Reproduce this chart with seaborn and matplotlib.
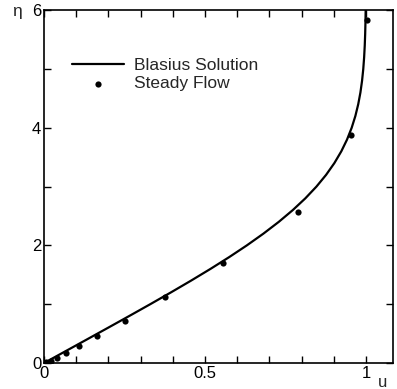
import matplotlib
matplotlib.use("Agg")
import matplotlib.pyplot as plt
import seaborn as sns
import pandas as pd
from matplotlib.ticker import MultipleLocator

# Blasius solution (eta, f'(eta))
blasius_eta = [0.0, 0.2, 0.4, 0.6, 0.8, 1.0, 1.2, 1.4, 1.6, 1.8, 2.0, 2.2, 2.4, 2.6,
               2.8, 3.0, 3.2, 3.4, 3.6, 3.8, 4.0, 4.2, 4.4, 4.6, 4.8, 5.0, 5.2, 5.4,
               5.6, 5.8, 6.0]
blasius_u = [0.0, 0.06641, 0.13277, 0.19894, 0.26471, 0.32979, 0.39378, 0.45627,
             0.51676, 0.57477, 0.62977, 0.68132, 0.72899, 0.77246, 0.81152, 0.84605,
             0.87609, 0.90177, 0.92333, 0.94112, 0.95552, 0.96696, 0.97587, 0.98269,
             0.98779, 0.99155, 0.99425, 0.99616, 0.99748, 0.99838, 0.99898]

# Steady flow points
steady_u = [0.0, 0.006, 0.022, 0.040, 0.068, 0.109, 0.165, 0.252, 0.376, 0.556, 0.789, 0.953, 1.003]
steady_eta = [0.0, 0.017, 0.034, 0.085, 0.17, 0.29, 0.46, 0.71, 1.12, 1.70, 2.57, 3.88, 5.83]

x_ticks = [0, 0.5, 1]
x_tick_labels = ["0", "0.5", "1"]
y_ticks = [0, 2, 4, 6]
y_tick_labels = ["0", "2", "4", "6"]

sns.set_theme(style="ticks")
plt.rcParams['font.family'] = ['Liberation Sans', 'DejaVu Sans']

fig = plt.figure(figsize=(3.97, 3.89), dpi=100)
ax = fig.add_axes([0.111, 0.0668, 0.879, 0.907])

df_line = pd.DataFrame({"u": blasius_u, "eta": blasius_eta})
df_pts = pd.DataFrame({"u": steady_u, "eta": steady_eta})

sns.lineplot(data=df_line, x="u", y="eta", sort=False, estimator=None, ax=ax,
             color="black", linewidth=1.6, label="Blasius Solution")
sns.scatterplot(data=df_pts, x="u", y="eta", ax=ax, color="black", s=20,
                edgecolor="black", linewidth=0, label="Steady Flow", zorder=3)

ax.set_xlim(0, 1.084)
ax.set_ylim(0, 6)
ax.set_xticks(x_ticks)
ax.set_xticklabels(x_tick_labels)
ax.set_yticks(y_ticks)
ax.set_yticklabels(y_tick_labels)
ax.xaxis.set_minor_locator(MultipleLocator(0.1))
ax.yaxis.set_minor_locator(MultipleLocator(1))
ax.tick_params(which="both", direction="in", top=True, right=True, color="black",
               labelsize=12, labelcolor="black", pad=2)
ax.tick_params(which="major", length=5, width=1)
ax.tick_params(which="minor", length=5, width=1)
ax.tick_params(axis="y", which="both", labelright=False)
for s in ax.spines.values():
    s.set_color("black")
    s.set_linewidth(1.2)

ax.set_xlabel("")
ax.set_ylabel("")
ax.text(-0.085, 5.97, "η", fontsize=12.5, ha="center", va="center")
ax.text(1.05, -0.33, "u", fontsize=12, ha="center", va="center")

leg = ax.legend(loc="upper left", bbox_to_anchor=(0.08, 0.866), frameon=False,
                fontsize=12.5, handlelength=3.0, handletextpad=0.6, labelspacing=0.2,
                borderaxespad=0, borderpad=0)

fig.savefig("out.png", dpi=100)
